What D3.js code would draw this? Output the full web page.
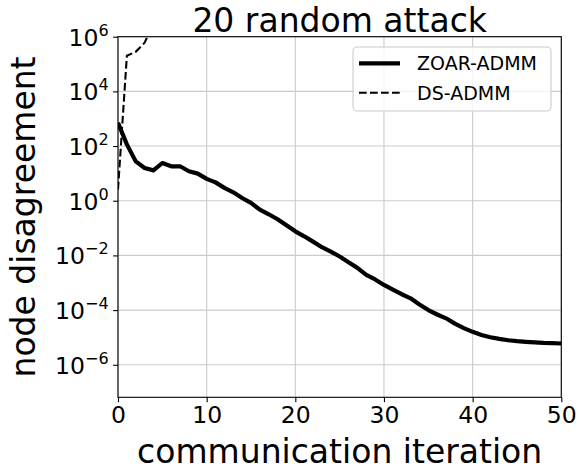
<!DOCTYPE html>
<html>
<head>
<meta charset="utf-8">
<script src="https://cdn.jsdelivr.net/npm/d3@7"></script>
<style>
    body { margin: 0; background: #fff; }
    svg text { font-family: "DejaVu Sans", sans-serif; fill: #000; }
</style>
</head>
<body>
<svg id="chart" width="579" height="472"></svg>
<script>
// iterations 0..50
const iterations = d3.range(0, 51);

const zoarAdmm = [
    708, 115, 27.5, 15.8, 12.9, 24, 18.2, 18.2, 12, 9.8,
    6.3, 4.7, 2.95, 2.04, 1.26, 0.83, 0.47, 0.32, 0.21, 0.126,
    0.076, 0.05, 0.032, 0.02, 0.0138, 0.0091, 0.0056, 0.0035, 0.00195, 0.00132,
    8.3e-4, 5.6e-4, 3.8e-4, 2.7e-4, 1.6e-4, 1.0e-4, 6.9e-5, 5.0e-5, 3.2e-5, 2.2e-5,
    1.6e-5, 1.23e-5, 1.02e-5, 8.9e-6, 7.9e-6, 7.3e-6, 6.9e-6, 6.6e-6, 6.3e-6, 6.2e-6,
    6.0e-6
];

// DS-ADMM blows up straight away, only the first few points are inside the plot
const dsIterations = [0, 1, 2, 3, 4, 5];
const dsAdmm = [2.6, 2.0e5, 2.8e5, 6.0e5, 3.0e6, 1.0e7];

const xTicks = [0, 10, 20, 30, 40, 50];
const yTicks = [1e-6, 1e-4, 1e-2, 1e0, 1e2, 1e4, 1e6];

const seriesNames = ["ZOAR-ADMM", "DS-ADMM"];

const plotLeft = 118, plotRight = 561.3, plotTop = 36.7, plotBottom = 397.3;

const svg = d3.select("#chart");

const x = d3.scaleLinear().domain([0, 50]).range([plotLeft, plotRight]);
const y = d3.scaleLog().domain([Math.pow(10, -7.19), 1e6]).range([plotBottom, plotTop]);

svg.append("defs").append("clipPath").attr("id", "plot-clip")
    .append("rect")
    .attr("x", plotLeft).attr("y", plotTop)
    .attr("width", plotRight - plotLeft).attr("height", plotBottom - plotTop);

// grid
const grid = svg.append("g");
grid.selectAll(".gx").data(xTicks).enter().append("line")
    .attr("x1", d => x(d)).attr("x2", d => x(d))
    .attr("y1", plotTop).attr("y2", plotBottom)
    .style("stroke", "#cbcbcb").style("stroke-width", 1.1);
grid.selectAll(".gy").data(yTicks).enter().append("line")
    .attr("x1", plotLeft).attr("x2", plotRight)
    .attr("y1", d => y(d)).attr("y2", d => y(d))
    .style("stroke", "#cbcbcb").style("stroke-width", 1.1);

// axes
const xAxis = svg.append("g")
    .attr("transform", "translate(0," + plotBottom + ")")
    .call(d3.axisBottom(x).tickValues(xTicks).tickSize(4.9).tickPadding(4.5).tickFormat(d3.format("d")));
xAxis.select(".domain").remove();
xAxis.selectAll("line").style("stroke", "#000").style("stroke-width", 1.1);
xAxis.selectAll("text").style("font-size", "23.5px").attr("dy", "0.71em");

const yAxis = svg.append("g")
    .attr("transform", "translate(" + plotLeft + ",0)")
    .call(d3.axisLeft(y).tickValues(yTicks).tickSize(4.9).tickPadding(4.5));
yAxis.select(".domain").remove();
yAxis.selectAll("line").style("stroke", "#000").style("stroke-width", 1.1);
yAxis.selectAll("text").each(function (d) {
    const t = d3.select(this);
    const e = Math.round(Math.log10(d));
    t.text(null).attr("dy", null).attr("y", 8.5).style("font-size", "23.5px");
    t.append("tspan").text("10");
    t.append("tspan").attr("dy", -10).style("font-size", "16px")
        .text(e < 0 ? "\u2212" + Math.abs(e) : String(e));
});

// lines
const line = d3.line()
    .x(d => x(d[0]))
    .y(d => y(d[1]));

const plot = svg.append("g").attr("clip-path", "url(#plot-clip)");

plot.append("path")
    .datum(dsIterations.map((v, i) => [v, dsAdmm[i]]))
    .attr("d", line)
    .style("fill", "none")
    .style("stroke", "#000")
    .style("stroke-width", 2.1)
    .style("stroke-dasharray", "7.7,3.3");

plot.append("path")
    .datum(iterations.map((v, i) => [v, zoarAdmm[i]]))
    .attr("d", line)
    .style("fill", "none")
    .style("stroke", "#000")
    .style("stroke-width", 4.2)
    .style("stroke-linejoin", "round");

// frame
svg.append("rect")
    .attr("x", plotLeft).attr("y", plotTop)
    .attr("width", plotRight - plotLeft).attr("height", plotBottom - plotTop)
    .style("fill", "none").style("stroke", "#000").style("stroke-width", 1.1);

// title and labels
svg.append("text")
    .attr("x", (plotLeft + plotRight) / 2).attr("y", 31.5)
    .attr("text-anchor", "middle")
    .style("font-size", "33px")
    .text("20 random attack");

svg.append("text")
    .attr("x", (plotLeft + plotRight) / 2).attr("y", 462.5)
    .attr("text-anchor", "middle")
    .style("font-size", "33px")
    .text("communication iteration");

svg.append("text")
    .attr("transform", "translate(35," + (plotTop + plotBottom) / 2 + ") rotate(-90)")
    .attr("text-anchor", "middle")
    .style("font-size", "33px")
    .text("node disagreement");

// legend
const legend = svg.append("g");
legend.append("rect")
    .attr("x", 353).attr("y", 47).attr("width", 198).attr("height", 64)
    .attr("rx", 4).attr("ry", 4)
    .style("fill", "rgba(255,255,255,0.8)")
    .style("stroke", "#cccccc").style("stroke-width", 1.1);

const legendRows = legend.selectAll(".row").data(seriesNames).enter().append("g")
    .attr("transform", (d, i) => "translate(0," + (63.3 + i * 29.4) + ")");
legendRows.append("line")
    .attr("x1", 359).attr("x2", 400).attr("y1", 0).attr("y2", 0)
    .style("stroke", "#000")
    .style("stroke-width", (d, i) => i === 0 ? 4.2 : 2.1)
    .style("stroke-dasharray", (d, i) => i === 0 ? null : "7.7,3.3");
legendRows.append("text")
    .attr("x", 417).attr("y", 6.8)
    .style("font-size", "19px")
    .text(d => d);
</script>
</body>
</html>
